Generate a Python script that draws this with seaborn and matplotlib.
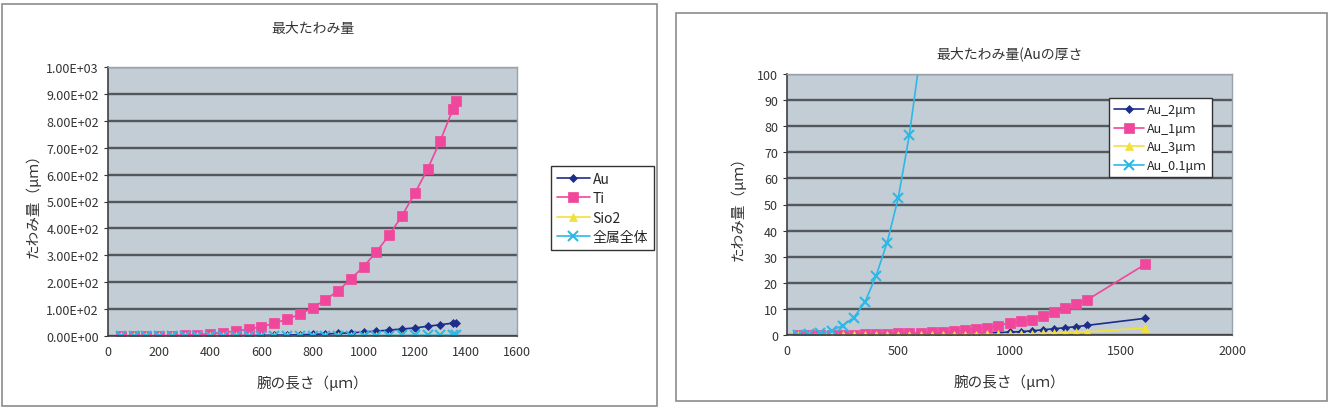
import matplotlib
matplotlib.use("Agg")
import matplotlib.pyplot as plt
import seaborn as sns
import pandas as pd
from matplotlib.patches import Rectangle
from matplotlib.ticker import FuncFormatter

# left chart: max deflection per material
left_x = [50, 100, 150, 200, 250, 300, 350, 400, 450, 500, 550, 600, 650, 700,
          750, 800, 850, 900, 950, 1000, 1050, 1100, 1150, 1200, 1250, 1300, 1350, 1360]
au_vals = [0, 0, 0, 0, 0.1, 0.2, 0.3, 0.5, 0.8, 1.1, 1.5, 2, 2.7, 3.6,
           4.6, 6, 7.7, 9.6, 12, 15, 18, 22, 26, 30, 36, 42, 48, 50]
ti_vals = [0, 0.1, 0.3, 0.6, 1.5, 3, 5, 9, 13, 18, 26, 34, 47, 63,
           80, 105, 134, 168, 212, 258, 313, 375, 447, 530, 620, 726, 845, 872]
sio2_vals = [0, 0, 0, 0, 0, 0, 0, 0, 0, 0.1, 0.1, 0.1, 0.2, 0.2,
             0.3, 0.3, 0.4, 0.5, 0.6, 0.7, 0.8, 0.9, 1.0, 1.1, 1.2, 1.3, 1.5, 1.5]
all_vals = [0, 0, 0, 0, 0, 0, 0.1, 0.1, 0.1, 0.2, 0.2, 0.3, 0.4, 0.5,
            0.6, 0.7, 0.8, 1.0, 1.2, 1.4, 1.6, 1.8, 2.0, 2.3, 2.5, 2.8, 3.0, 3.1]
left_names = ["Au", "Ti", "Sio2", "全属全体"]

# right chart: max deflection vs Au thickness
right_x = [50, 100, 150, 200, 250, 300, 350, 400, 450, 500, 550, 600, 650, 700,
           750, 800, 850, 900, 950, 1000, 1050, 1100, 1150, 1200, 1250, 1300, 1350, 1610]
au2_vals = [0, 0, 0, 0, 0.02, 0.03, 0.04, 0.05, 0.06, 0.08, 0.1, 0.15, 0.2, 0.25,
            0.3, 0.4, 0.5, 0.7, 0.9, 1.1, 1.3, 1.6, 2.0, 2.4, 2.8, 3.2, 3.7, 6.4]
au1_vals = [0, 0, 0.02, 0.05, 0.1, 0.15, 0.25, 0.35, 0.5, 0.7, 0.8, 0.9, 1.0, 1.1,
            1.5, 1.9, 2.3, 2.8, 3.6, 4.6, 5.2, 5.9, 7.4, 8.7, 10.2, 11.8, 13.5, 27.1]
au3_vals = [0, 0, 0, 0, 0, 0, 0.01, 0.01, 0.02, 0.02, 0.03, 0.04, 0.06, 0.08,
            0.1, 0.12, 0.16, 0.2, 0.27, 0.33, 0.4, 0.5, 0.6, 0.7, 0.85, 1.0, 1.2, 2.7]
thin_x = [50, 100, 150, 200, 250, 300, 350, 400, 450, 500, 550, 600, 650]
au01_vals = [0, 0.2, 0.6, 1.7, 3.6, 6.7, 12.5, 22.6, 35.4, 52.5, 76.7, 108, 151]
right_names = ["Au_2μｍ", "Au_1μｍ", "Au_3μｍ", "Au_0.1μｍ"]

colors = ["#1C2D8C", "#F0469B", "#F2E03C", "#2EB8E6"]
marks = [("D", 4.5), ("s", 6.5), ("^", 5.5), ("x", 6.5)]

sns.set_style("white")
plt.rcParams["font.family"] = ["Noto Sans CJK JP", "DejaVu Sans"]
text_c = "#333333"

fig = plt.figure(figsize=(13.41, 4.10), dpi=100)
W, H = 1341, 410

def box(x0, y0, x1, y1):
    return [x0 / W, 1 - y1 / H, (x1 - x0) / W, (y1 - y0) / H]

for x0, y0, x1, y1 in [(2, 5, 657, 407), (676, 14, 1327, 402)]:
    fig.patches.append(Rectangle((x0 / W, 1 - y1 / H), (x1 - x0) / W, (y1 - y0) / H,
                                 transform=fig.transFigure, fill=False,
                                 edgecolor="#8c8c8c", linewidth=1.2))

def style_axes(ax):
    ax.set_facecolor("#C3CDD6")
    ax.grid(axis="y", color="#53585d", linewidth=1.7)
    ax.grid(axis="x", visible=False)
    ax.set_axisbelow(True)
    for s in ["top", "right"]:
        ax.spines[s].set_color("#9aa3ab")
        ax.spines[s].set_linewidth(1.0)
    for s in ["left", "bottom"]:
        ax.spines[s].set_color("#404040")
        ax.spines[s].set_linewidth(1.2)
    ax.tick_params(axis="both", labelsize=9, colors=text_c, length=3,
                   direction="out", left=True, bottom=False)

def draw(ax, xs, series, names):
    for x, vals, name, c, (m, ms) in zip(xs, series, names, colors, marks):
        df = pd.DataFrame({"x": x, "y": vals})
        sns.lineplot(data=df, x="x", y="y", ax=ax, color=c, marker=m,
                     markersize=ms, markeredgecolor=c,
                     markeredgewidth=1.5 if m == "x" else 0.5,
                     linewidth=1.2, label=name, clip_on=True)

# left chart
ax1 = fig.add_axes(box(108, 68, 517, 337))
style_axes(ax1)
draw(ax1, [left_x] * 4, [au_vals, ti_vals, sio2_vals, all_vals], left_names)
ax1.set_xlim(0, 1600)
ax1.set_ylim(0, 1000)
ax1.set_xticks(range(0, 1601, 200))
ax1.set_yticks(range(0, 1001, 100))
ax1.yaxis.set_major_formatter(FuncFormatter(lambda v, p: f"{v:.2E}"))
ax1.set_xlabel("腕の長さ（μｍ）", fontsize=10.5, color=text_c, labelpad=12)
ax1.set_ylabel("たわみ量（μｍ）", fontsize=10.5, color=text_c, labelpad=4)
ax1.set_title("最大たわみ量", fontsize=10, color=text_c, pad=25)
ax1.legend(loc="upper left", bbox_to_anchor=(544 / W, 1 - 160 / H),
           bbox_transform=fig.transFigure, fontsize=10, frameon=True,
           fancybox=False, edgecolor="#333333", framealpha=1,
           handlelength=2.4, handletextpad=0.2, borderpad=0.4, labelspacing=0.4)

# right chart
ax2 = fig.add_axes(box(787, 75, 1232, 336))
style_axes(ax2)
draw(ax2, [right_x, right_x, right_x, thin_x],
     [au2_vals, au1_vals, au3_vals, au01_vals], right_names)
ax2.set_xlim(0, 2000)
ax2.set_ylim(0, 100)
ax2.set_xticks(range(0, 2001, 500))
ax2.set_yticks(range(0, 101, 10))
ax2.set_xlabel("腕の長さ（μｍ）", fontsize=10.5, color=text_c, labelpad=12)
ax2.set_ylabel("たわみ量（μｍ）", fontsize=10.5, color=text_c, labelpad=8)
ax2.set_title("最大たわみ量(Auの厚さ", fontsize=10, color=text_c, pad=12)
ax2.legend(loc="upper left", bbox_to_anchor=(1103 / W, 1 - 93 / H),
           bbox_transform=fig.transFigure, fontsize=9, frameon=True,
           fancybox=False, edgecolor="#333333", framealpha=1,
           handlelength=2.4, handletextpad=0.2, borderpad=0.4, labelspacing=0.45)

fig.savefig("out.png", dpi=100, facecolor="white")
